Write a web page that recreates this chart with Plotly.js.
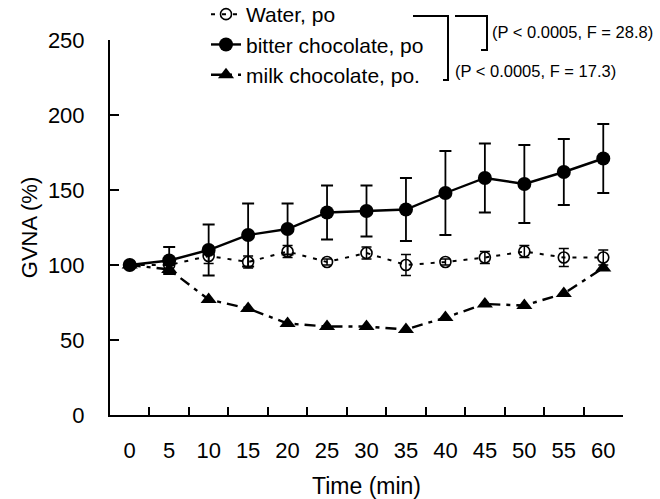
<!DOCTYPE html>
<html>
<head>
<meta charset="utf-8">
<script src="https://cdn.plot.ly/plotly-3.0.1.min.js"></script>
<style>html,body{margin:0;padding:0;background:#fff;}#chart{width:660px;height:499px;}</style>
</head>
<body>
<div id="chart"></div>
<script>
var times = ['0','5','10','15','20','25','30','35','40','45','50','55','60'];
var water = [100,100,106,102,109,102,108,100,102,105,109,105,105];
var waterErr = [0,0,5,4,4,2,4,7,2,4,4,6,5];
var bitter = [100,103,110,120,124,135,136,137,148,158,154,162,171];
var bitterErr = [0,9,17,21,17,18,17,21,28,23,26,22,23];
var milk = [100,97,77,71,61,59,59,57,65,74,73,81,98];
var seriesNames = ['Water, po','bitter chocolate, po','milk chocolate, po.'];
var statTexts = ['(P < 0.0005, F = 28.8)','(P < 0.0005, F = 17.3)'];

var FONT = 'Arial, "Liberation Sans", sans-serif';
var L = 110, R = 623, T = 40, B = 415;
function px(x){ return (x - L) / (R - L); }
function py(y){ return (B - y) / (B - T); }
function bracket(x0, x1, y0, y1, hook){
  return 'M ' + px(x0) + ',' + py(y0) + ' L ' + px(x1) + ',' + py(y0) +
         ' L ' + px(x1) + ',' + py(y1) + ' L ' + px(hook) + ',' + py(y1);
}

var traces = [
  {x: times, y: water, name: seriesNames[0], type: 'scatter', mode: 'lines+markers',
   line: {color: '#000', width: 2, dash: '4px,7px'},
   marker: {symbol: 'circle-open', size: 11, color: '#000', line: {width: 1.6, color: '#000'}},
   error_y: {type: 'data', array: waterErr, visible: true, color: '#000', thickness: 1.5, width: 5}},
  {x: times, y: bitter, name: seriesNames[1], type: 'scatter', mode: 'lines+markers',
   line: {color: '#000', width: 2.4},
   marker: {symbol: 'circle', size: 14, color: '#000'},
   error_y: {type: 'data', array: bitterErr, visible: true, color: '#000', thickness: 1.8, width: 6}},
  {x: times, y: milk, name: seriesNames[2], type: 'scatter', mode: 'lines+markers',
   line: {color: '#000', width: 2.4, dash: '11px,6px,4px,6px'},
   marker: {symbol: 'triangle-up', size: 14, color: '#000'}}
];

var layout = {
  width: 660, height: 499,
  margin: {l: L, r: 660 - R, t: T, b: 499 - B, autoexpand: false},
  paper_bgcolor: '#fff', plot_bgcolor: '#fff',
  font: {family: FONT, size: 22, color: '#000'},
  showlegend: true,
  legend: {x: px(206), y: py(-6), xanchor: 'left', yanchor: 'top', bgcolor: 'rgba(0,0,0,0)',
           font: {family: FONT, size: 21, color: '#000'}, tracegroupgap: 0},
  xaxis: {type: 'category', range: [-0.5, 12.5], showline: true, linecolor: '#000', linewidth: 2,
          ticks: 'inside', ticklen: 8, tickwidth: 2, tickcolor: '#000', tickson: 'boundaries',
          showgrid: false, zeroline: false, ticklabelstandoff: 15,
          tickfont: {family: FONT, size: 22, color: '#000'},
          title: {text: 'Time (min)', font: {family: FONT, size: 23, color: '#000'}, standoff: 17}},
  yaxis: {range: [0, 250], tickvals: [0,50,100,150,200,250], showline: true, linecolor: '#000', linewidth: 2,
          ticks: 'inside', ticklen: 9, tickwidth: 2, tickcolor: '#000', showgrid: false, zeroline: false,
          ticklabelstandoff: 19, tickfont: {family: FONT, size: 22, color: '#000'},
          title: {text: 'GVNA (%)', font: {family: FONT, size: 22, color: '#000'}, standoff: 4}},
  shapes: [
    {type: 'path', xref: 'paper', yref: 'paper', path: bracket(413, 448, 16, 80, 443),
     line: {color: '#000', width: 2}},
    {type: 'path', xref: 'paper', yref: 'paper', path: bracket(455, 487, 16, 50, 481),
     line: {color: '#000', width: 2}}
  ],
  annotations: [
    {xref: 'paper', yref: 'paper', x: px(490), y: py(32), xanchor: 'left', yanchor: 'middle', showarrow: false,
     text: statTexts[0], font: {family: FONT, size: 16.5, color: '#000'}},
    {xref: 'paper', yref: 'paper', x: px(453), y: py(71), xanchor: 'left', yanchor: 'middle', showarrow: false,
     text: statTexts[1], font: {family: FONT, size: 16.5, color: '#000'}}
  ]
};

Plotly.newPlot('chart', traces, layout, {displayModeBar: false, staticPlot: true});
</script>
</body>
</html>
